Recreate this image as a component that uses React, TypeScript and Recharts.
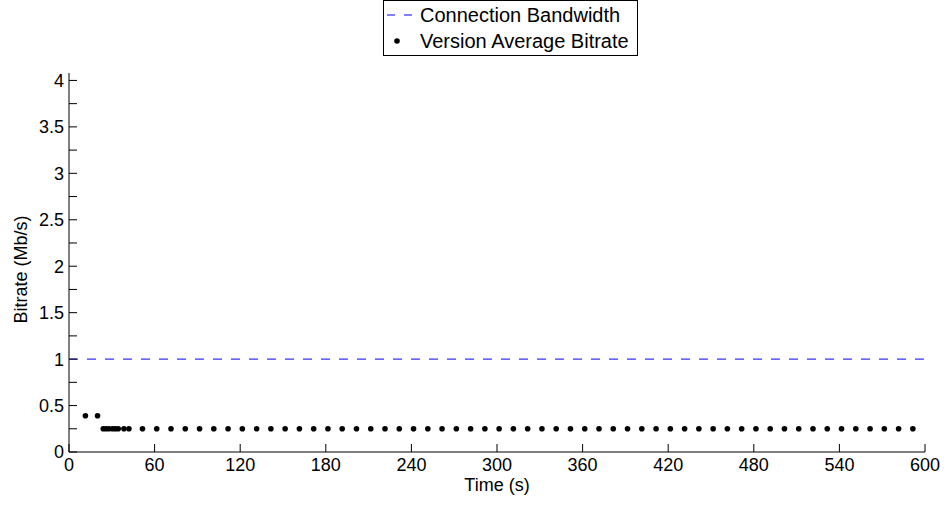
import React from "react";
import { ScatterChart, Scatter, XAxis, YAxis, Legend } from "recharts";

// Connection bandwidth (Mb/s) over time (s)
const bandwidthTimes = [0, 600];
const bandwidthValues = [1, 1];

// Version average bitrate samples
const bitrateTimes = [
  11.5, 20, 24, 26, 28, 30.5, 32.5, 34.5, 38.5, 42,
  51.5, 61.5, 71.5, 81.5, 91.5, 101.5, 111.5, 121.5, 131.5, 141.5,
  151.5, 161.5, 171.5, 181.5, 191.5, 201.5, 211.5, 221.5, 231.5, 241.5,
  251.5, 261.5, 271.5, 281.5, 291.5, 301.5, 311.5, 321.5, 331.5, 341.5,
  351.5, 361.5, 371.5, 381.5, 391.5, 401.5, 411.5, 421.5, 431.5, 441.5,
  451.5, 461.5, 471.5, 481.5, 491.5, 501.5, 511.5, 521.5, 531.5, 541.5,
  551.5, 561.5, 571.5, 581.5, 591.5,
];
const bitrateValues = [
  0.39, 0.39, 0.25, 0.25, 0.25, 0.25, 0.25, 0.25, 0.25, 0.25,
  0.25, 0.25, 0.25, 0.25, 0.25, 0.25, 0.25, 0.25, 0.25, 0.25,
  0.25, 0.25, 0.25, 0.25, 0.25, 0.25, 0.25, 0.25, 0.25, 0.25,
  0.25, 0.25, 0.25, 0.25, 0.25, 0.25, 0.25, 0.25, 0.25, 0.25,
  0.25, 0.25, 0.25, 0.25, 0.25, 0.25, 0.25, 0.25, 0.25, 0.25,
  0.25, 0.25, 0.25, 0.25, 0.25, 0.25, 0.25, 0.25, 0.25, 0.25,
  0.25, 0.25, 0.25, 0.25, 0.25,
];

const xTicks = [0, 60, 120, 180, 240, 300, 360, 420, 480, 540, 600];
const yTicks = [0, 0.25, 0.5, 0.75, 1, 1.25, 1.5, 1.75, 2, 2.25, 2.5, 2.75, 3, 3.25, 3.5, 3.75, 4];
const yLabeled = [0, 0.5, 1, 1.5, 2, 2.5, 3, 3.5, 4];

const seriesNames = ["Connection Bandwidth", "Version Average Bitrate"];
const xLabel = "Time (s)";
const yLabel = "Bitrate (Mb/s)";

const bandwidthData = bandwidthTimes.map((x, i) => ({ x, y: bandwidthValues[i] }));
const bitrateData = bitrateTimes.map((x, i) => ({ x, y: bitrateValues[i] }));

const FONT = "'Liberation Sans', Arial, Helvetica, sans-serif";
const FS = 18;
const LFS = 20;

const XTick = (props: any) => {
  const { x, y, payload } = props;
  return (
    <g>
      <line x1={x} x2={x} y1={y} y2={y - 8} stroke="#000" strokeWidth={1} />
      <text x={x} y={y + 19} textAnchor="middle" fontSize={FS} fontFamily={FONT} fill="#000">
        {payload.value}
      </text>
    </g>
  );
};

const YTick = (props: any) => {
  const { x, y, payload } = props;
  const show = yLabeled.includes(payload.value);
  return (
    <g>
      <line x1={x} x2={x + 8} y1={y} y2={y} stroke="#000" strokeWidth={1} />
      {show && (
        <text x={x - 5} y={y} dy="0.36em" textAnchor="end" fontSize={FS} fontFamily={FONT} fill="#000">
          {payload.value}
        </text>
      )}
    </g>
  );
};

const LegendBox = () => (
  <div
    style={{
      border: "1px solid #000",
      background: "#fff",
      width: 255,
      height: 56,
      fontFamily: FONT,
      fontSize: LFS,
      color: "#000",
      boxSizing: "border-box",
      position: "relative",
    }}
  >
    <div style={{ position: "absolute", left: 0, top: 1, height: 26, display: "flex", alignItems: "center" }}>
      <svg width={36} height={26}>
        <line x1={3} x2={30} y1={13} y2={13} stroke="#0000ff" strokeWidth={1} strokeDasharray="8 9" />
      </svg>
      <span style={{ whiteSpace: "nowrap" }}>{seriesNames[0]}</span>
    </div>
    <div style={{ position: "absolute", left: 0, top: 27, height: 26, display: "flex", alignItems: "center" }}>
      <svg width={36} height={26}>
        <circle cx={13} cy={13} r={2.8} fill="#000" />
      </svg>
      <span style={{ whiteSpace: "nowrap" }}>{seriesNames[1]}</span>
    </div>
  </div>
);

const YLabelContent = (props: any) => {
  const vb = props.viewBox || { x: 0, y: 73, width: 69, height: 379 };
  const cx = vb.x + 27;
  const cy = vb.y + vb.height / 2 + 7;
  return (
    <text
      x={cx}
      y={cy}
      transform={`rotate(-90, ${cx}, ${cy})`}
      textAnchor="middle"
      fontSize={FS}
      fontFamily={FONT}
      fill="#000"
    >
      {yLabel}
    </text>
  );
};

const XLabelContent = (props: any) => {
  const vb = props.viewBox || { x: 69, y: 452, width: 856, height: 56 };
  return (
    <text x={vb.x + vb.width / 2} y={vb.y + 39} textAnchor="middle" fontSize={FS} fontFamily={FONT} fill="#000">
      {xLabel}
    </text>
  );
};

export default function App() {
  return (
    <div style={{ position: "absolute", left: 0, top: 0, width: 947, height: 508, background: "#fff" }}>
      <ScatterChart width={947} height={508} margin={{ top: 73, right: 22, bottom: 0, left: 0 }}>
        <XAxis
          type="number"
          dataKey="x"
          domain={[0, 600]}
          ticks={xTicks}
          interval={0}
          tickSize={0}
          tickMargin={0}
          tickLine={false}
          tick={<XTick />}
          height={56}
          axisLine={{ stroke: "#000", strokeWidth: 1 }}
          label={<XLabelContent />}
          allowDataOverflow
        />
        <YAxis
          type="number"
          dataKey="y"
          domain={[0, 4.08]}
          ticks={yTicks}
          interval={0}
          tickSize={0}
          tickMargin={0}
          tickLine={false}
          tick={<YTick />}
          width={69}
          axisLine={{ stroke: "#000", strokeWidth: 1 }}
          label={<YLabelContent />}
          allowDataOverflow
        />
        <Legend
          layout="vertical"
          align="center"
          verticalAlign="middle"
          wrapperStyle={{ top: 0, left: 383, width: 255 }}
          content={<LegendBox />}
        />
        <Scatter
          name={seriesNames[0]}
          data={bandwidthData}
          line={{ stroke: "#0000ff", strokeWidth: 1, strokeDasharray: "9 9" }}
          shape={() => <g />}
          isAnimationActive={false}
        />
        <Scatter
          name={seriesNames[1]}
          data={bitrateData}
          fill="#000"
          shape={(p: any) => <circle cx={p.cx} cy={p.cy} r={2.8} fill="#000" />}
          isAnimationActive={false}
        />
      </ScatterChart>
    </div>
  );
}
